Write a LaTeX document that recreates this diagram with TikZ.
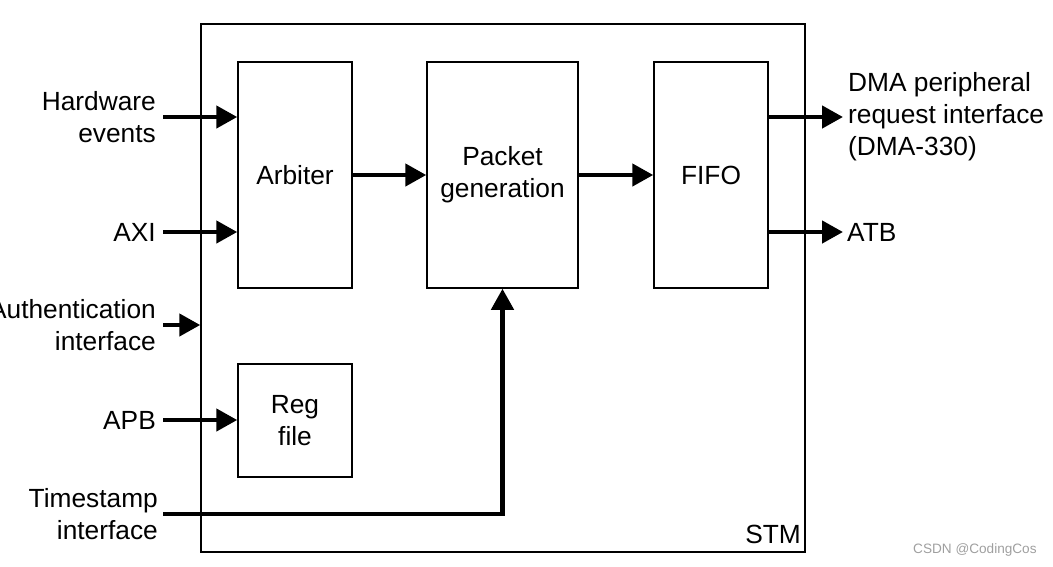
\documentclass[tikz,border=0pt]{standalone}
\usepackage{fontspec}
\setmainfont{Liberation Sans}
\usetikzlibrary{arrows.meta}

\tikzset{
  blk/.style={draw, line width=1.5pt, inner sep=0pt, align=center, font=\fontsize{26.3}{32}\selectfont},
  sig/.style={line width=4.5pt, -{Triangle[length=21pt,width=22pt]}},
  lbl/.style={inner sep=0pt, align=right, font=\fontsize{26.3}{32}\selectfont},
}

\begin{document}
\begin{tikzpicture}[x=1pt,y=-1pt]
\useasboundingbox (0,0) rectangle (1053,566);

%Blocks
\node [blk, minimum width=604pt, minimum height=528pt] (stm) at (503,288) {};
\node [blk, minimum width=114pt, minimum height=226pt] (arb) at (295,175) {Arbiter};
\node [blk, minimum width=151pt, minimum height=226pt] (pkt) at (502.5,175) {Packet\\generation};
\node [blk, minimum width=114pt, minimum height=226pt] (fifo) at (711,175) {FIFO};
\node [blk, minimum width=114pt, minimum height=113pt] (reg) at (295,420.5) {Reg\\file};

% Text Node
\node [lbl, anchor=east] (hw) at (156,117) {Hardware\\events};
% Text Node
\node [lbl, anchor=east] (axi) at (156,232) {AXI};
% Text Node
\node [lbl, anchor=east] (auth) at (156,325) {Authentication\\interface};
% Text Node
\node [lbl, anchor=east] (apb) at (156,420) {APB};
% Text Node
\node [lbl, anchor=east] (ts) at (158,514) {Timestamp\\interface};
% Text Node
\node [lbl, anchor=west, align=left] (dma) at (848,117) {DMA peripheral\\request interface\\(DMA-330)};
% Text Node
\node [lbl, anchor=west] (atb) at (847,232) {ATB};
% Text Node
\node [lbl, anchor=base east] (stmname) at (801,543) {STM};
% Text Node
\node [inner sep=0pt, anchor=base west, text=gray!75, font=\fontsize{13.6}{16}\selectfont] (wm) at (913,553) {CSDN @CodingCos};

%Inputs
\draw [sig] ([xshift=7pt]hw.east) -- (arb.west |- hw.east);
\draw [sig] ([xshift=7pt]axi.east) -- (arb.west |- axi.east);
\draw [sig] ([xshift=7pt]auth.east) -- (stm.west |- auth.east);
\draw [sig] ([xshift=7pt]apb.east) -- (reg.west |- apb.east);
\draw [sig] ([xshift=5pt]ts.east) -| (pkt.south);
%Internal
\draw [sig] (arb.east) -- (pkt.west);
\draw [sig] (pkt.east) -- (fifo.west);
%Outputs
\draw [sig] (fifo.east |- dma.west) -- ([xshift=-5pt]dma.west);
\draw [sig] (fifo.east |- atb.west) -- ([xshift=-4pt]atb.west);

\end{tikzpicture}
\end{document}
